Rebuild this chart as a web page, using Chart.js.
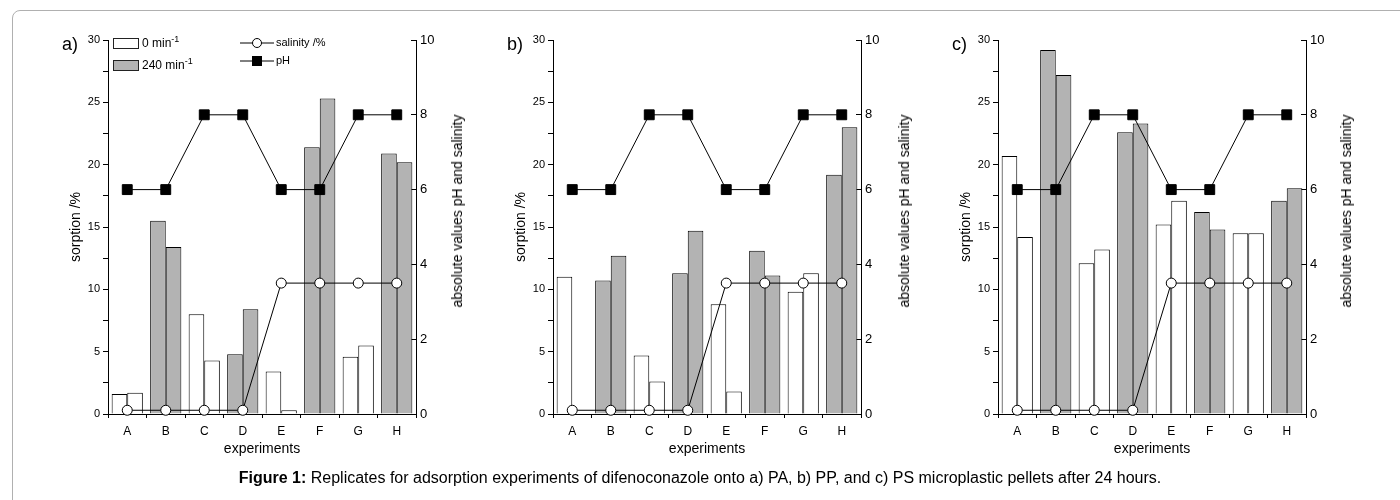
<!DOCTYPE html>
<html>
<head>
<meta charset="utf-8">
<script src="https://cdn.jsdelivr.net/npm/chart.js@4"></script>
<style>
  body { margin:0; background:#fff; font-family:"Liberation Sans", Arial, sans-serif; color:#000; }
  #page { position:relative; width:1400px; height:500px; overflow:hidden; }
  .frame { position:absolute; left:12px; top:10px; width:1400px; height:500px; border:1px solid #b0b0b0; border-radius:8px; }
  canvas { position:absolute; top:0; }
  .lab { position:absolute; font-size:18px; }
  .ytitle2 { position:absolute; font-size:14px; white-space:nowrap; transform:translate(-50%,-50%) rotate(-90deg); }
  .leg { position:absolute; font-size:12px; white-space:nowrap; }
  .box { position:absolute; width:24px; height:9px; border:1px solid #222; }
  .caption { position:absolute; left:0; top:469px; width:1400px; text-align:center; font-size:16px; }
</style>
</head>
<body>
<div id="page">
  <div class="frame"></div>
  <canvas id="pa" width="470" height="470" style="left:0px"></canvas>
  <canvas id="pp" width="470" height="470" style="left:445px"></canvas>
  <canvas id="ps" width="470" height="470" style="left:890px"></canvas>

  <div class="lab" style="left:62px; top:34px">a)</div>
  <div class="lab" style="left:507px; top:34px">b)</div>
  <div class="lab" style="left:952px; top:34px">c)</div>

  <div class="ytitle2" style="left:457px; top:211px">absolute values pH and salinity</div>
  <div class="ytitle2" style="left:904px; top:211px">absolute values pH and salinity</div>
  <div class="ytitle2" style="left:1346px; top:211px">absolute values pH and salinity</div>

  <!-- legend, panel a -->
  <div class="box" style="left:113px; top:38px; background:#fff"></div>
  <div class="leg" style="left:142px; top:34px">0 min<sup style="font-size:9px">-1</sup></div>
  <div class="box" style="left:113px; top:60px; background:#b3b3b3"></div>
  <div class="leg" style="left:142px; top:56px">240 min<sup style="font-size:9px">-1</sup></div>
  <svg class="leg" style="left:240px; top:37px" width="34" height="12">
    <line x1="0" y1="6" x2="34" y2="6" stroke="#000" stroke-width="1"/>
    <circle cx="17" cy="6" r="4.5" fill="#fff" stroke="#000" stroke-width="1"/>
  </svg>
  <div class="leg" style="left:276px; top:36px; font-size:11px">salinity /%</div>
  <svg class="leg" style="left:240px; top:55px" width="34" height="12">
    <line x1="0" y1="6" x2="34" y2="6" stroke="#000" stroke-width="1"/>
    <rect x="12" y="1" width="10" height="10" fill="#000"/>
  </svg>
  <div class="leg" style="left:276px; top:54px; font-size:11px">pH</div>

  <div class="caption"><b>Figure 1:</b> Replicates for adsorption experiments of difenoconazole onto a) PA, b) PP, and c) PS microplastic pellets after 24 hours.</div>
</div>

<script>
const EXPERIMENTS = ['A','B','C','D','E','F','G','H'];
const STIRRING    = [0, 240, 0, 240, 0, 240, 0, 240];   // min^-1

// sorption /% , replicate 1 and 2
const PA_REP1 = [1.6, 15.5, 8.0, 4.8, 3.4, 21.4, 4.6, 20.9];
const PA_REP2 = [1.7, 13.4, 4.3, 8.4, 0.3, 25.3, 5.5, 20.2];
const PP_REP1 = [11.0, 10.7, 4.7, 11.3, 8.8, 13.1, 9.8, 19.2];
const PP_REP2 = [null, 12.7, 2.6, 14.7, 1.8, 11.1, 11.3, 23.0];
const PS_REP1 = [20.7, 29.2, 12.1, 22.6, 15.2, 16.2, 14.5, 17.1];
const PS_REP2 = [14.2, 27.2, 13.2, 23.3, 17.1, 14.8, 14.5, 18.1];

const SALINITY = [0.1, 0.1, 0.1, 0.1, 3.5, 3.5, 3.5, 3.5];
const PH       = [6, 6, 8, 8, 6, 6, 8, 8];

Chart.defaults.font.family = '"Liberation Sans", Arial, sans-serif';
Chart.defaults.color = '#000';

const barFill = STIRRING.map(s => s === 0 ? '#ffffff' : '#b3b3b3');

function panel(id, rep1, rep2) {
  const bar = data => ({
    type: 'bar', data, yAxisID: 'y', order: 2,
    backgroundColor: barFill, borderColor: '#000', borderWidth: 1,
    categoryPercentage: 0.81, barPercentage: 1
  });
  new Chart(document.getElementById(id), {
    data: {
      labels: EXPERIMENTS,
      datasets: [
        bar(rep1),
        bar(rep2),
        { type: 'line', label: 'salinity /%', data: SALINITY, yAxisID: 'y2', order: 0,
          borderColor: '#000', borderWidth: 1, pointStyle: 'circle', pointRadius: 5,
          pointBackgroundColor: '#fff', pointBorderColor: '#000', pointBorderWidth: 1, clip: false },
        { type: 'line', label: 'pH', data: PH, yAxisID: 'y2', order: 1,
          borderColor: '#000', borderWidth: 1, pointStyle: 'rect', pointRadius: 7,
          pointBackgroundColor: '#000', pointBorderColor: '#000', pointBorderWidth: 1, clip: false },
      ]
    },
    options: {
      responsive: false, animation: false, devicePixelRatio: 1,
      layout: { padding: { left: 64, right: 20, top: 40, bottom: 8 } },
      plugins: { legend: { display: false }, tooltip: { enabled: false } },
      scales: {
        x: {
          grid: { drawOnChartArea: false, tickLength: 4, tickColor: '#000' },
          border: { color: '#000', width: 1 },
          ticks: { font: { size: 12 }, padding: 6 },
          title: { display: true, text: 'experiments', font: { size: 14 } },
          afterFit: s => { s.height = 48; }
        },
        y: {
          position: 'left', min: 0, max: 30,
          grid: { drawOnChartArea: false, tickLength: 5, tickColor: '#000' },
          border: { color: '#000', width: 1 },
          ticks: { stepSize: 2.5, font: { size: 11 }, padding: 3, callback: v => v % 5 === 0 ? v : '' },
          title: { display: true, text: 'sorption /%', font: { size: 14 } },
          afterFit: s => { s.width = 44; }
        },
        y2: {
          position: 'right', min: 0, max: 10,
          grid: { drawOnChartArea: false, tickLength: -5, tickColor: '#000' },
          border: { color: '#000', width: 1 },
          ticks: { stepSize: 2, font: { size: 13 }, padding: 9 },
          afterFit: s => { s.width = 34; }
        }
      }
    }
  });
}

panel('pa', PA_REP1, PA_REP2);
panel('pp', PP_REP1, PP_REP2);
panel('ps', PS_REP1, PS_REP2);
</script>
</body>
</html>
